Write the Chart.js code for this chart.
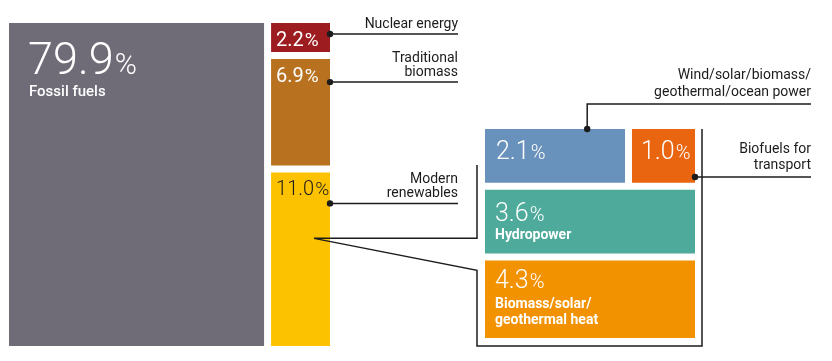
<!DOCTYPE html>
<html>
<head>
<meta charset="utf-8">
<script src="https://cdn.jsdelivr.net/npm/chart.js@4.4.1/dist/chart.umd.min.js"></script>
<style>
  html, body { margin: 0; padding: 0; background: #fff; }
  #wrap { position: relative; width: 832px; height: 361px; }
  #wrap canvas { position: absolute; left: 0; top: 0; }
</style>
</head>
<body>
<div id="wrap">
  <canvas id="main" width="832" height="361"></canvas>
  <canvas id="detail" width="832" height="361"></canvas>
</div>
<script>
// share of total final energy consumption, %
const mainLabels = [["Fossil fuels"], ["Nuclear energy"], ["Traditional", "biomass"], ["Modern", "renewables"]];
const mainValues = [79.9, 2.2, 6.9, 11.0];
const mainColumns = [[0], [1, 2, 3]];
const mainColors = ["#6f6c78", "#9d1c20", "#b8711f", "#fcc200"];

// breakdown of modern renewables, %
const detailLabels = [["Wind/solar/biomass/", "geothermal/ocean power"], ["Biofuels for", "transport"], ["Hydropower"], ["Biomass/solar/", "geothermal heat"]];
const detailValues = [2.1, 1.0, 3.6, 4.3];
const detailRows = [[0, 1], [2], [3]];
const detailColors = ["#6891bb", "#e9650f", "#4eaa9b", "#f29200"];

const GAP = 3.5;
const INK = "#1c1c1c";
const FONT = "Roboto, 'Liberation Sans', sans-serif";

// groups side by side along one axis, members split the other axis
const treemap = (values, groups, groupAxis) => {
  const tiles = [];
  let pos = 0;
  groups.forEach((members) => {
    const sum = members.reduce((acc, i) => acc + values[i], 0);
    let inner = 0;
    members.forEach((i) => {
      const share = values[i] / sum;
      if (groupAxis === "x") {
        tiles.push({ index: i, x0: pos, x1: pos + sum, y0: inner, y1: inner + share });
      } else {
        tiles.push({ index: i, x0: inner, x1: inner + share, y0: pos, y1: pos + sum });
      }
      inner += share;
    });
    pos += sum;
  });
  return tiles;
};

const buildDatasets = (tiles, labels, colors) =>
  tiles.map((t) => ({
    label: labels[t.index].join(" "),
    data: [{ x: (t.x0 + t.x1) / 2, y: [t.y0, t.y1] }],
    backgroundColor: colors[t.index],
    borderColor: "rgba(0,0,0,0)",
    borderWidth: GAP,
    borderSkipped: false,
    inflateAmount: 0,
    grouped: false,
    barThickness: (ctx) => {
      const xs = ctx.chart.scales.x;
      return Math.abs(xs.getPixelForValue(t.x1) - xs.getPixelForValue(t.x0));
    },
  }));

const tileRect = (chart, datasetIndex) => {
  const el = chart.getDatasetMeta(datasetIndex).data[0];
  const { x, y, base, width } = el.getProps(["x", "y", "base", "width"], true);
  return {
    left: x - width / 2 + GAP,
    right: x + width / 2 - GAP,
    top: Math.min(y, base) + GAP,
    bottom: Math.max(y, base) - GAP,
  };
};

const drawShare = (ctx, value, x, y, style) => {
  ctx.textAlign = "left";
  ctx.textBaseline = "alphabetic";
  ctx.fillStyle = style.color;
  const num = value.toFixed(1);
  const weight = style.weight || 300;
  ctx.font = `${weight} ${style.size}px ${FONT}`;
  ctx.fillText(num, x, y);
  const w = ctx.measureText(num).width;
  ctx.font = `${weight} ${style.pct}px ${FONT}`;
  ctx.fillText("%", x + w + 1, y);
};

const drawLines = (ctx, lines, x, y, font, color, align, lineHeight) => {
  ctx.font = font;
  ctx.fillStyle = color;
  ctx.textAlign = align;
  ctx.textBaseline = "alphabetic";
  lines.forEach((line, k) => ctx.fillText(line, x, y + k * lineHeight));
};

const dot = (ctx, x, y) => {
  ctx.beginPath();
  ctx.arc(x, y, 3.2, 0, Math.PI * 2);
  ctx.fillStyle = INK;
  ctx.fill();
};

// text placement inside each tile
const mainText = [
  { dx: 19, dy: 51, size: 45, pct: 30, color: "#fff", inside: true, nameDy: 73, nameFont: `500 15px ${FONT}` },
  { dx: 5, dy: 23, size: 20, pct: 19, color: "#fff", weight: 400, lineDy: 11 },
  { dx: 5, dy: 23, size: 20, pct: 19, color: "#fff", weight: 400, lineDy: 23 },
  { dx: 5, dy: 23, size: 20, pct: 19, color: INK, lineDy: 31 },
];
const detailText = [
  { dx: 11, dy: 30, size: 25, pct: 20, color: "#fff" },
  { dx: 9, dy: 30, size: 25, pct: 20, color: "#fff" },
  { dx: 10, dy: 31, size: 25, pct: 20, color: "#fff", inside: true, nameDy: 49 },
  { dx: 10, dy: 27, size: 25, pct: 20, color: "#fff", inside: true, nameDy: 47 },
];
const MAIN_LABEL_RIGHT = 458;
const DETAIL_LABEL_RIGHT = 811;

const mainTiles = treemap(mainValues, mainColumns, "x");
const detailTiles = treemap(detailValues, detailRows, "y");

const mainLabelPlugin = {
  id: "mainLabels",
  afterDatasetsDraw(chart) {
    const ctx = chart.ctx;
    ctx.save();
    mainTiles.forEach((t, di) => {
      const r = tileRect(chart, di);
      const st = mainText[t.index];
      drawShare(ctx, mainValues[t.index], r.left + st.dx, r.top + st.dy, st);
      if (st.inside) {
        drawLines(ctx, mainLabels[t.index], r.left + st.dx + 1, r.top + st.nameDy, st.nameFont, "#fff", "left", 16);
        return;
      }
      const ly = r.top + st.lineDy;
      ctx.strokeStyle = INK;
      ctx.lineWidth = 1.5;
      ctx.beginPath();
      ctx.moveTo(r.right, ly);
      ctx.lineTo(MAIN_LABEL_RIGHT, ly);
      ctx.stroke();
      dot(ctx, r.right, ly);
      const lines = mainLabels[t.index];
      drawLines(ctx, lines, MAIN_LABEL_RIGHT, ly - 6 - (lines.length - 1) * 14, `400 14px ${FONT}`, INK, "right", 14);
    });
    ctx.restore();
  },
};

let mainChart = null;

const detailLabelPlugin = {
  id: "detailLabels",
  afterDatasetsDraw(chart) {
    const ctx = chart.ctx;
    ctx.save();
    const rects = detailTiles.map((t, di) => tileRect(chart, di));
    detailTiles.forEach((t, di) => {
      const r = rects[di];
      const st = detailText[t.index];
      drawShare(ctx, detailValues[t.index], r.left + st.dx, r.top + st.dy, st);
      if (st.inside) {
        drawLines(ctx, detailLabels[t.index], r.left + st.dx, r.top + st.nameDy, `bold 14px ${FONT}`, "#fff", "left", 16);
      }
    });

    ctx.strokeStyle = INK;
    ctx.lineWidth = 1.5;

    // wind/solar callout: elbow from the top edge
    const wind = rects[0];
    const wx = wind.left + (wind.right - wind.left) * 0.73;
    const wy = wind.top - 25;
    ctx.beginPath();
    ctx.moveTo(wx, wind.top);
    ctx.lineTo(wx, wy);
    ctx.lineTo(DETAIL_LABEL_RIGHT, wy);
    ctx.stroke();
    dot(ctx, wx, wind.top);
    drawLines(ctx, detailLabels[0], DETAIL_LABEL_RIGHT, wy - 25, `400 14px ${FONT}`, INK, "right", 17);

    // biofuels callout
    const bio = rects[1];
    const by = bio.top + 48;
    ctx.strokeStyle = INK;
    ctx.beginPath();
    ctx.moveTo(bio.right, by);
    ctx.lineTo(DETAIL_LABEL_RIGHT, by);
    ctx.stroke();
    dot(ctx, bio.right, by);
    drawLines(ctx, detailLabels[1], DETAIL_LABEL_RIGHT, by - 24, `400 14px ${FONT}`, INK, "right", 16);

    // bracket linking modern renewables to its breakdown
    const L = Math.min(...rects.map((r) => r.left)) - 8;
    const R = Math.max(...rects.map((r) => r.right)) + 7;
    const T = Math.min(...rects.map((r) => r.top));
    const B = Math.max(...rects.map((r) => r.bottom)) + 8;
    if (mainChart) {
      const m = tileRect(mainChart, 3);
      const ax = m.left + 43;
      const ay = m.top + (m.bottom - m.top) * 0.38;
      ctx.strokeStyle = INK;
      ctx.beginPath();
      ctx.moveTo(L, T + 36);
      ctx.lineTo(L, ay);
      ctx.lineTo(ax, ay);
      ctx.lineTo(L, ay + 32);
      ctx.lineTo(L, B);
      ctx.lineTo(R, B);
      ctx.lineTo(R, T);
      ctx.stroke();
    }
    ctx.restore();
  },
};

const baseOptions = (padding, xMax, yMax) => ({
  responsive: false,
  animation: false,
  events: [],
  layout: { padding },
  plugins: { legend: { display: false }, tooltip: { enabled: false } },
  scales: {
    x: { type: "linear", min: 0, max: xMax, display: false, offset: false },
    y: { type: "linear", min: 0, max: yMax, reverse: true, display: false },
  },
});

mainChart = new Chart(document.getElementById("main"), {
  type: "bar",
  data: { datasets: buildDatasets(mainTiles, mainLabels, mainColors) },
  options: baseOptions({ left: 5.5, top: 19.5, right: 498.5, bottom: 11.5 },
    mainValues.reduce((a, b) => a + b, 0), 1),
  plugins: [mainLabelPlugin],
});

new Chart(document.getElementById("detail"), {
  type: "bar",
  data: { datasets: buildDatasets(detailTiles, detailLabels, detailColors) },
  options: baseOptions({ left: 481.5, top: 125.5, right: 133.5, bottom: 19.5 },
    1, detailValues.reduce((a, b) => a + b, 0)),
  plugins: [detailLabelPlugin],
});
</script>
</body>
</html>
